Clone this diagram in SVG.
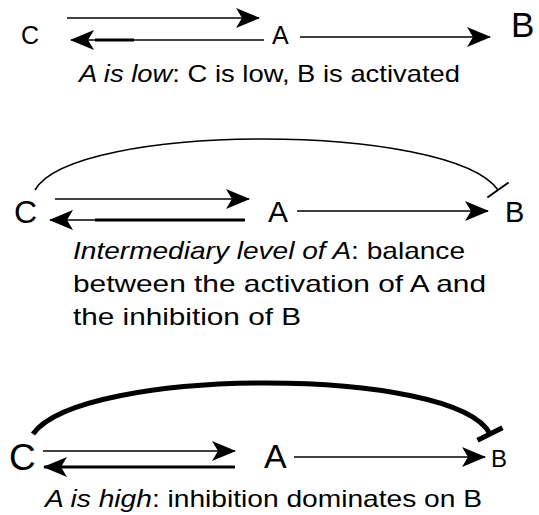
<svg xmlns="http://www.w3.org/2000/svg" width="539" height="515" viewBox="0 0 539 515">
<defs>
<style>
.lbl{font-family:"Liberation Sans",Arial,sans-serif;fill:#000}
.cap{font-family:"Liberation Sans",Arial,sans-serif;font-size:24px;fill:#000}
.it{font-style:italic}
.ln{stroke:#000;stroke-width:1.6;fill:none}
.thk{stroke:#000;stroke-width:3;fill:none}
</style>
<marker id="ah" viewBox="-24 -11 26 22" refX="0" refY="0" markerWidth="26" markerHeight="22" markerUnits="userSpaceOnUse" orient="auto">
<path d="M1,0 L-23,-10 L-17,0 L-23,10 Z" fill="#000"/>
</marker>
<marker id="bar1" viewBox="-3 -14 6 28" refX="0" refY="0" markerWidth="6" markerHeight="28" markerUnits="userSpaceOnUse" orient="auto">
<path d="M0,-13 L0,13" stroke="#000" stroke-width="2"/>
</marker>
<marker id="bar2" viewBox="-4 -15 8 30" refX="0" refY="0" markerWidth="8" markerHeight="30" markerUnits="userSpaceOnUse" orient="auto">
<path d="M0,-14 L0,14" stroke="#000" stroke-width="5"/>
</marker>
</defs>
<rect width="539" height="515" fill="#fff"/>
<g id="connectors">
<line class="ln" x1="67" y1="18" x2="259" y2="18" marker-end="url(#ah)"/>
<line class="ln" x1="264" y1="40" x2="71" y2="40" marker-end="url(#ah)"/>
<line class="thk" x1="95" y1="40" x2="134" y2="40"/>
<line class="ln" x1="300" y1="37" x2="490" y2="37" marker-end="url(#ah)"/>
<path class="ln" d="M35,190 C74,122 450,122 498,190" stroke-width="2" marker-end="url(#bar1)"/>
<line class="ln" x1="55" y1="199" x2="249" y2="199" marker-end="url(#ah)"/>
<line class="ln" x1="245" y1="220" x2="50" y2="220" marker-end="url(#ah)"/>
<line class="thk" x1="95" y1="220" x2="245" y2="220"/>
<line class="ln" x1="297" y1="211" x2="488" y2="211" marker-end="url(#ah)"/>
<path d="M33,434 C81,366 456,366 490,434" fill="none" stroke="#000" stroke-width="5" marker-end="url(#bar2)"/>
<line class="ln" x1="43" y1="451" x2="235" y2="451" marker-end="url(#ah)"/>
<line class="thk" x1="235" y1="467" x2="44" y2="467" marker-end="url(#ah)"/>
<line class="ln" x1="294" y1="457" x2="485" y2="457" marker-end="url(#ah)"/>
</g>
<g id="top-C"><text class="lbl" x="21" y="44" font-size="25">C</text></g>
<g id="top-A"><text class="lbl" x="272" y="44" font-size="25">A</text></g>
<g id="top-B"><text class="lbl" x="511" y="37" font-size="35">B</text></g>
<g id="top-caption"><text class="cap" x="79" y="82" font-size="25" textLength="381" lengthAdjust="spacingAndGlyphs"><tspan class="it">A is low</tspan>: C is low, B is activated</text></g>
<g id="mid-C"><text class="lbl" x="14" y="223" font-size="32">C</text></g>
<g id="mid-A"><text class="lbl" x="268" y="222" font-size="30">A</text></g>
<g id="mid-B"><text class="lbl" x="505" y="222" font-size="29">B</text></g>
<g id="mid-caption">
<text class="cap" x="73" y="259" textLength="392" lengthAdjust="spacingAndGlyphs"><tspan class="it">Intermediary level of A</tspan>:  balance</text>
<text class="cap" x="73" y="292" textLength="413" lengthAdjust="spacingAndGlyphs">between the activation of A and</text>
<text class="cap" x="73" y="325" textLength="228" lengthAdjust="spacingAndGlyphs">the inhibition of B</text>
</g>
<g id="bot-C"><text class="lbl" x="9" y="470" font-size="37">C</text></g>
<g id="bot-A"><text class="lbl" x="264" y="468" font-size="34">A</text></g>
<g id="bot-B"><text class="lbl" x="491" y="467" font-size="24">B</text></g>
<g id="bot-caption"><text class="cap" x="45" y="507" textLength="437" lengthAdjust="spacingAndGlyphs"><tspan class="it">A is high</tspan>: inhibition dominates on B</text></g>
</svg>
